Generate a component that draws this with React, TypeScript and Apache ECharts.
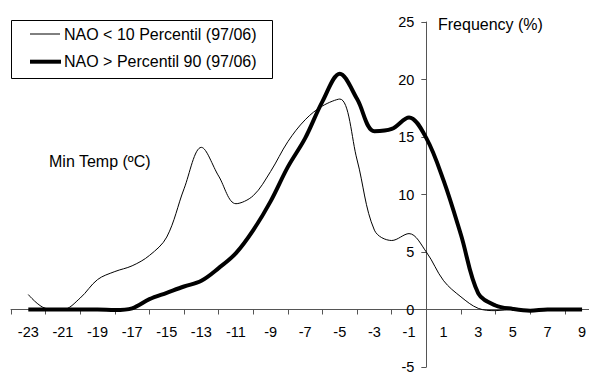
import React, { useEffect, useRef } from "react";
import * as echarts from "echarts";

// Minimum temperature (ºC) categories
const temps = [-23, -22, -21, -20, -19, -18, -17, -16, -15, -14, -13, -12, -11, -10, -9, -8, -7, -6, -5, -4, -3, -2, -1, 0, 1, 2, 3, 4, 5, 6, 7, 8, 9];
// Frequency (%) NAO < 10 percentil
const naoLow = [1.3, 0.1, 0.0, 1.0, 2.6, 3.3, 3.8, 4.7, 6.3, 10.5, 14.1, 11.6, 9.2, 9.9, 12.0, 14.6, 16.5, 17.7, 18.3, 13.0, 6.9, 6.0, 6.6, 5.0, 2.5, 1.1, 0.1, -0.1, 0.0, 0.0, 0.0, 0.0, 0.0];
// Frequency (%) NAO > percentil 90
const naoHigh = [0.0, 0.0, 0.0, 0.0, 0.0, -0.05, 0.1, 0.9, 1.45, 2.0, 2.5, 3.6, 4.9, 6.9, 9.4, 12.4, 14.9, 18.1, 20.5, 18.3, 15.5, 15.7, 16.7, 14.9, 11.2, 6.5, 1.4, 0.35, 0.05, -0.1, 0.0, 0.0, 0.0];

const seriesNames = ["NAO < 10 Percentil (97/06)", "NAO > Percentil 90 (97/06)"];
const yTitle = "Frequency (%)";
const xTitle = "Min Temp (ºC)";

const X_MIN = -24;
const X_MAX = 9.4;
const Y_MIN = -5;
const Y_MAX = 25;

const FONT = "'Liberation Sans', Arial, sans-serif";

export default function App() {
  const ref = useRef<HTMLDivElement>(null);
  useEffect(() => {
    if (!ref.current) return;
    const chart = echarts.init(ref.current, undefined, { renderer: "svg" });
    const W = 589;
    const H = 372;
    const gLeft = 11;
    const gRight = 0;
    const gTop = 22;
    const gBottom = 5;
    const plotW = W - gLeft - gRight;
    const plotH = H - gTop - gBottom;
    // pixel position of x = 0 and y = 0 (where the axes cross)
    const zeroX = gLeft + ((0 - X_MIN) / (X_MAX - X_MIN)) * plotW;
    const zeroY = gTop + ((Y_MAX - 0) / (Y_MAX - Y_MIN)) * plotH;

    const lowData = temps.map((t, i) => [t, naoLow[i]]);
    const highData = temps.map((t, i) => [t, naoHigh[i]]);
    const axisColor = "#555";
    const baseGrid = { containLabel: false, outerBoundsMode: "none" };
    chart.setOption({
      animation: false,
      backgroundColor: "#fff",
      grid: [
        // data grid
        { ...baseGrid, left: gLeft, right: gRight, top: gTop, bottom: gBottom },
        // vertical axis grid: left edge at x = 0
        { ...baseGrid, left: zeroX, right: gRight, top: gTop, bottom: gBottom },
        // horizontal axis grid (labels): bottom edge at y = 0
        { ...baseGrid, left: gLeft, right: gRight, top: gTop, height: zeroY - gTop },
        // horizontal axis grid (ticks)
        { ...baseGrid, left: gLeft, right: gRight, top: gTop, height: zeroY - gTop },
      ],
      xAxis: [
        { type: "value", gridIndex: 0, min: X_MIN, max: X_MAX, show: false },
        { type: "value", gridIndex: 1, min: 0, max: 1, show: false },
        {
          type: "value",
          gridIndex: 2,
          position: "bottom",
          min: X_MIN,
          max: X_MAX,
          interval: 1,
          splitLine: { show: false },
          axisTick: { show: false },
          axisLine: { show: true, onZero: false, lineStyle: { color: axisColor, width: 1 } },
          axisLabel: {
            show: true,
            margin: 15,
            color: "#000",
            fontSize: 14.5,
            fontFamily: FONT,
            showMinLabel: true,
            showMaxLabel: true,
            formatter: (v: number) => (Math.abs(v % 2) === 1 ? String(v) : ""),
          },
        },
        {
          type: "value",
          gridIndex: 3,
          position: "bottom",
          min: X_MIN,
          max: X_MAX,
          interval: 2,
          splitLine: { show: false },
          axisLabel: { show: false },
          axisLine: { show: false, onZero: false },
          axisTick: { show: true, length: 5, lineStyle: { color: axisColor, width: 1 } },
        },
      ],
      yAxis: [
        { type: "value", gridIndex: 0, min: Y_MIN, max: Y_MAX, show: false },
        {
          type: "value",
          gridIndex: 1,
          position: "left",
          min: Y_MIN,
          max: Y_MAX,
          interval: 5,
          splitLine: { show: false },
          axisLine: { show: true, onZero: false, lineStyle: { color: axisColor, width: 1 } },
          axisTick: { show: true, length: 5, lineStyle: { color: axisColor, width: 1 } },
          axisLabel: { margin: 12, color: "#000", fontSize: 14.5, fontFamily: FONT },
        },
        { type: "value", gridIndex: 2, min: 0, max: 1, show: false },
        { type: "value", gridIndex: 3, min: 0, max: 1, show: false },
      ],
      series: [
        {
          name: seriesNames[0],
          type: "line",
          xAxisIndex: 0,
          yAxisIndex: 0,
          data: lowData,
          smooth: 0.35,
          symbol: "none",
          lineStyle: { color: "#000", width: 1 },
          z: 3,
        },
        {
          name: seriesNames[1],
          type: "line",
          xAxisIndex: 0,
          yAxisIndex: 0,
          data: highData,
          smooth: 0.35,
          symbol: "none",
          lineStyle: { color: "#000", width: 4 },
          z: 4,
        },
      ],
      graphic: [
        {
          type: "rect",
          shape: { x: 11.5, y: 20.5, width: 261, height: 58 },
          style: { fill: "#fff", stroke: "#000", lineWidth: 1 },
          z: 10,
        },
        {
          type: "line",
          shape: { x1: 30, y1: 34, x2: 60, y2: 34 },
          style: { stroke: "#000", lineWidth: 1 },
          z: 11,
        },
        {
          type: "line",
          shape: { x1: 30, y1: 61.7, x2: 61, y2: 61.7 },
          style: { stroke: "#000", lineWidth: 4 },
          z: 11,
        },
        {
          type: "text",
          x: 64,
          y: 34,
          style: { text: seriesNames[0], fill: "#000", font: `16px ${FONT}`, verticalAlign: "middle", align: "left" },
          z: 11,
        },
        {
          type: "text",
          x: 64,
          y: 61.5,
          style: { text: seriesNames[1], fill: "#000", font: `16px ${FONT}`, verticalAlign: "middle", align: "left" },
          z: 11,
        },
        {
          type: "text",
          x: 438,
          y: 24,
          style: { text: yTitle, fill: "#000", font: `16px ${FONT}`, verticalAlign: "middle", align: "left" },
          z: 11,
        },
        {
          type: "text",
          x: 49,
          y: 161,
          style: { text: xTitle, fill: "#000", font: `16px ${FONT}`, verticalAlign: "middle", align: "left" },
          z: 11,
        },
      ],
    });
    return () => chart.dispose();
  }, []);
  return (
    <div
      ref={ref}
      style={{ position: "absolute", left: 0, top: 0, width: 589, height: 372, background: "#fff" }}
    />
  );
}
